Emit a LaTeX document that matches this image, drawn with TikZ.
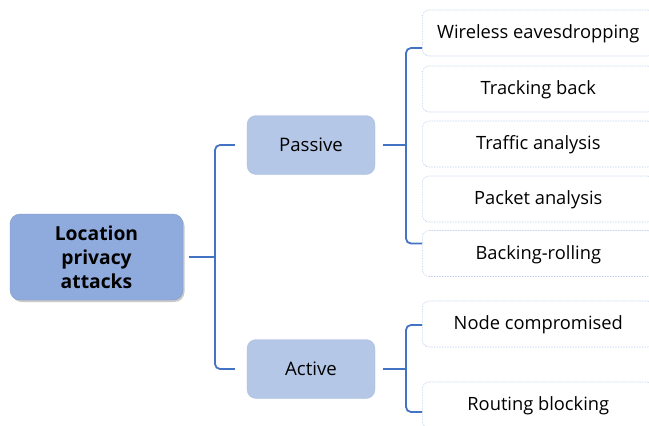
\documentclass[tikz,border=0pt]{standalone}
\usepackage{fontspec}
\setmainfont{Open Sans}
\usetikzlibrary{shadows}
\definecolor{rootfill}{HTML}{8FAADC}
\definecolor{midfill}{HTML}{B4C7E7}
\definecolor{connblue}{HTML}{4472C4}
\definecolor{leafline}{HTML}{A9BEE4}
\tikzset{
  rootbox/.style={rounded corners=10pt, fill=rootfill, draw=rootfill!90!black, line width=0.4pt,
    minimum width=173pt, minimum height=86pt, align=center, inner sep=0pt,
    font=\bfseries\fontsize{19.3}{24}\selectfont,
    drop shadow={shadow xshift=1.5pt, shadow yshift=-2pt, opacity=0.35, fill=black!60}},
  midbox/.style={rounded corners=9pt, fill=midfill, draw=midfill!95!black, line width=0.3pt,
    minimum width=128pt, minimum height=59pt, inner sep=0pt,
    font=\fontsize{18.6}{22}\selectfont},
  leafbox/.style={rounded corners=7pt, fill=white, draw=leafline, densely dotted, line width=0.6pt,
    minimum width=232pt, minimum height=46pt, inner sep=0pt, anchor=west,
    text height=15.4pt, text depth=4pt,
    font=\fontsize{18.3}{22}\selectfont},
  connline/.style={draw=connblue, line width=1.8pt, rounded corners=5pt}
}
\begin{document}
\begin{tikzpicture}[x=1pt,y=-1pt]
\useasboundingbox (0,0) rectangle (649,426);
\node[rootbox] (root) at (96.5,257) {Location\\privacy\\attacks};
\node[midbox] (passive) at (311,145) {Passive};
\node[midbox] (active) at (311,369) {Active};
\node[leafbox] (wireless) at (422,33) {Wireless eavesdropping};
\node[leafbox] (tracking) at (422,89) {Tracking back};
\node[leafbox] (traffic) at (422,144) {Traffic analysis};
\node[leafbox] (packet) at (422,199) {Packet analysis};
\node[leafbox] (backing) at (422,253.5) {Backing-rolling};
\node[leafbox] (nodecomp) at (422,324) {Node compromised};
\node[leafbox] (routing) at (422,405) {Routing blocking};
\coordinate (jr) at (215,257);
\coordinate (jp) at (406,145);
\coordinate (ja) at (406,369);
\draw[connline] ([xshift=6pt]root.east) -- (jr);
\draw[connline] ([xshift=-12pt]passive.west) -| (jr) |- ([xshift=-12pt]active.west);
\draw[connline] ([xshift=8pt]passive.east) -- (jp);
\draw[connline] ([yshift=-15pt]wireless.west) -| (jp) |- ([yshift=10pt]backing.west);
\draw[connline] ([xshift=8pt]active.east) -- (ja);
\draw[connline] ([yshift=-1pt]nodecomp.west) -| (ja) |- ([yshift=-7pt]routing.west);
\end{tikzpicture}
\end{document}
